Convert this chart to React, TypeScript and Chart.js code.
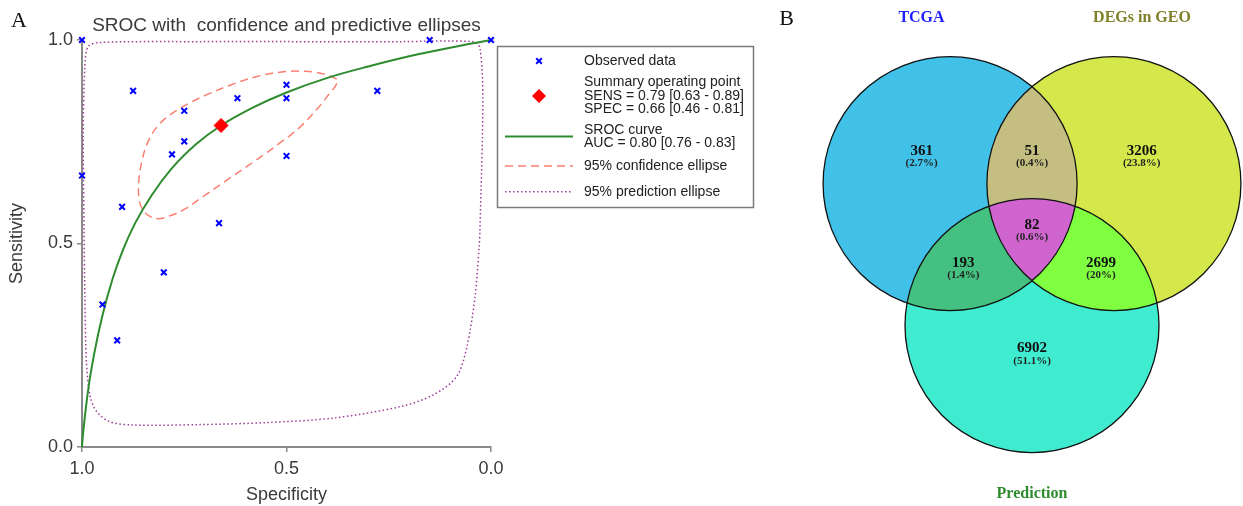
import React, { useEffect, useRef } from 'react';
import { Chart, registerables } from 'chart.js';

Chart.register(...registerables);

const SANS = "'Liberation Sans', Arial, sans-serif";
const SERIF = "'Liberation Serif', 'Times New Roman', serif";

// ---------------- Panel A data (specificity, sensitivity) ----------------
const observedSpec = [1.0, 0.15, 0.0, 0.875, 0.5, 0.5, 0.62, 0.278, 0.75, 0.75, 0.78, 0.5, 1.0, 0.902, 0.665, 0.8, 0.95, 0.914];
const observedSens = [1.0, 1.0, 1.0, 0.875, 0.89, 0.857, 0.857, 0.875, 0.826, 0.751, 0.719, 0.715, 0.667, 0.59, 0.55, 0.429, 0.35, 0.262];

const summarySpec = [0.66];
const summarySens = [0.79];

const srocSpec = [1.0, 0.999, 0.995, 0.985, 0.97, 0.95, 0.925, 0.9, 0.87, 0.83, 0.78, 0.72, 0.66, 0.58, 0.5, 0.4, 0.3, 0.2, 0.1, 0.0];
const srocSens = [0.0, 0.015, 0.056, 0.14, 0.23, 0.323, 0.414, 0.484, 0.55, 0.618, 0.685, 0.745, 0.79, 0.835, 0.871, 0.907, 0.935, 0.96, 0.981, 1.0];

const confSpec = [0.377, 0.406, 0.455, 0.516, 0.577, 0.638, 0.692, 0.741, 0.785, 0.817, 0.839, 0.853, 0.861, 0.861, 0.853, 0.836, 0.814, 0.785, 0.748, 0.699, 0.638, 0.577, 0.516, 0.467, 0.423, 0.394, 0.379, 0.377];
const confSens = [0.904, 0.916, 0.923, 0.921, 0.909, 0.889, 0.867, 0.843, 0.816, 0.786, 0.749, 0.705, 0.656, 0.614, 0.585, 0.568, 0.561, 0.568, 0.585, 0.619, 0.661, 0.703, 0.747, 0.786, 0.833, 0.87, 0.889, 0.904];

const predSpec = [0.467, 0.222, 0.044, 0.027, 0.02, 0.027, 0.029, 0.039, 0.059, 0.084, 0.141, 0.222, 0.386, 0.548, 0.711, 0.875, 0.932, 0.964, 0.98, 0.989, 0.993, 0.995, 0.997, 0.993, 0.985, 0.956, 0.711, 0.467];
const predSens = [0.996, 0.996, 0.996, 0.98, 0.853, 0.533, 0.492, 0.369, 0.246, 0.173, 0.128, 0.099, 0.071, 0.06, 0.055, 0.054, 0.062, 0.087, 0.124, 0.206, 0.369, 0.533, 0.771, 0.934, 0.984, 0.994, 0.996, 0.996];

const axisTicks = [0, 0.5, 1];

const legendTexts = [
  ['Observed data'],
  ['Summary operating point', 'SENS = 0.79 [0.63 - 0.89]', 'SPEC = 0.66 [0.46 - 0.81]'],
  ['SROC curve', 'AUC = 0.80 [0.76 - 0.83]'],
  ['95% confidence ellipse'],
  ['95% prediction ellipse'],
];

const chartTitle = 'SROC with  confidence and predictive ellipses';

// ---------------- Panel B data ----------------
const vennSetNames = ['TCGA', 'DEGs in GEO', 'Prediction'];
const vennSetTitleColors = ['#1E1EFF', '#80802A', '#2E8B2E'];
const regionCounts = [361, 51, 3206, 193, 82, 2699, 6902];
const regionPercents = ['2.7%', '0.4%', '23.8%', '1.4%', '0.6%', '20%', '51.1%'];
const regionMembers = [[0], [0, 1], [1], [0, 2], [0, 1, 2], [1, 2], [2]];
const regionColors = ['#41C0E8', '#C4BE80', '#D4E84C', '#44C080', '#D065D0', '#80FF40', '#40ECD0'];

// Venn geometry (layout, in circle-radius units)
const VENN = {
  centers: [[-0.645, 0.373], [0.645, 0.373], [0, -0.745]],
  radius: 1,
  labelAnchors: [[-0.869, 0.632], [0, 0.632], [0.864, 0.632], [-0.541, -0.25], [0, 0.047], [0.543, -0.25], [0, -0.924]],
  titleAnchors: [[-0.87, 1.681], [0.866, 1.681], [0, -2.071]],
};

const pts = (xs: number[], ys: number[]) => xs.map((x, i) => ({ x, y: ys[i] }));

const COLORS = {
  observed: '#0000FF',
  summary: '#FF0000',
  sroc: '#2E8B2E',
  conf: '#FA8072',
  pred: '#9B3C9B',
};

const legendPlugin = {
  id: 'srocLegend',
  afterDraw(chart: any) {
    const ctx = chart.ctx as CanvasRenderingContext2D;
    ctx.save();
    ctx.font = `22px ${SERIF}`;
    ctx.fillStyle = '#111';
    ctx.textAlign = 'center';
    ctx.textBaseline = 'middle';
    ctx.fillText('A', 19, 21);

    const bx = 497.5, by = 46.5, bw = 256, bh = 161;
    ctx.strokeStyle = '#7a7a7a';
    ctx.lineWidth = 1.5;
    ctx.strokeRect(bx, by, bw, bh);

    const symX = 539, l0 = 505, l1 = 573, tx = 584, lh = 13.4;
    const centers = [61, 96, 136.5, 166, 191.7];
    ctx.font = `14px ${SANS}`;
    ctx.fillStyle = '#222';
    ctx.textAlign = 'left';
    ctx.textBaseline = 'middle';
    legendTexts.forEach((lines, i) => {
      const c = centers[i];
      const start = c - ((lines.length - 1) * lh) / 2;
      lines.forEach((t, j) => ctx.fillText(t, tx, start + j * lh));
    });

    ctx.strokeStyle = COLORS.observed;
    ctx.lineWidth = 2;
    const r = 2.8;
    ctx.beginPath();
    ctx.moveTo(symX - r, centers[0] - r); ctx.lineTo(symX + r, centers[0] + r);
    ctx.moveTo(symX - r, centers[0] + r); ctx.lineTo(symX + r, centers[0] - r);
    ctx.stroke();
    ctx.fillStyle = COLORS.summary;
    const d = 7;
    ctx.beginPath();
    ctx.moveTo(symX, centers[1] - d); ctx.lineTo(symX + d, centers[1]);
    ctx.lineTo(symX, centers[1] + d); ctx.lineTo(symX - d, centers[1]);
    ctx.closePath(); ctx.fill();
    ctx.strokeStyle = COLORS.sroc; ctx.lineWidth = 2; ctx.setLineDash([]);
    ctx.beginPath(); ctx.moveTo(l0, centers[2]); ctx.lineTo(l1, centers[2]); ctx.stroke();
    ctx.strokeStyle = COLORS.conf; ctx.lineWidth = 1.5; ctx.setLineDash([8, 5]);
    ctx.beginPath(); ctx.moveTo(l0, centers[3]); ctx.lineTo(l1, centers[3]); ctx.stroke();
    ctx.strokeStyle = COLORS.pred; ctx.lineWidth = 1.5; ctx.setLineDash([1.5, 2.5]);
    ctx.beginPath(); ctx.moveTo(l0, centers[4]); ctx.lineTo(l1, centers[4]); ctx.stroke();
    ctx.setLineDash([]);
    ctx.restore();
  },
};

const vennPlugin = {
  id: 'vennDraw',
  afterDraw(chart: any) {
    const ctx = chart.ctx as CanvasRenderingContext2D;
    const xs = chart.scales.x, ys = chart.scales.y;
    const px = (v: number) => xs.getPixelForValue(v);
    const py = (v: number) => ys.getPixelForValue(v);
    const rpx = Math.abs(px(VENN.radius) - px(0));
    const circle = (i: number) => {
      ctx.beginPath();
      ctx.arc(px(VENN.centers[i][0]), py(VENN.centers[i][1]), rpx, 0, Math.PI * 2);
    };
    ctx.save();
    const order = regionMembers.map((m, i) => i).sort((a, b) => regionMembers[a].length - regionMembers[b].length);
    order.forEach((ri) => {
      ctx.save();
      const mem = regionMembers[ri];
      for (let k = 1; k < mem.length; k++) { circle(mem[k]); ctx.clip(); }
      circle(mem[0]);
      ctx.fillStyle = regionColors[ri];
      ctx.fill();
      ctx.restore();
    });
    ctx.strokeStyle = '#111';
    ctx.lineWidth = 1.3;
    for (let i = 0; i < 3; i++) { circle(i); ctx.stroke(); }

    ctx.textAlign = 'center';
    ctx.textBaseline = 'middle';
    regionCounts.forEach((c, i) => {
      const x = px(VENN.labelAnchors[i][0]);
      const y = py(VENN.labelAnchors[i][1]);
      ctx.fillStyle = '#111';
      ctx.font = `bold 15px ${SERIF}`;
      ctx.fillText(String(c), x, y);
      ctx.fillStyle = '#222';
      ctx.font = `bold 11px ${SERIF}`;
      ctx.fillText(`(${regionPercents[i]})`, x, y + 12.5);
    });
    ctx.font = `bold 16px ${SERIF}`;
    vennSetNames.forEach((n, i) => {
      ctx.fillStyle = vennSetTitleColors[i];
      ctx.fillText(n, px(VENN.titleAnchors[i][0]), py(VENN.titleAnchors[i][1]));
    });
    ctx.font = `22px ${SERIF}`;
    ctx.fillStyle = '#111';
    ctx.fillText('B', 16.5, 19);
    ctx.restore();
  },
};

const tickFont = { family: SANS, size: 18 };
const axisColor = '#8a8a8a';
const textColor = '#3a3a3a';

function makeChartA(canvas: HTMLCanvasElement) {
  return new Chart(canvas, {
    type: 'scatter',
    data: {
      datasets: [
        {
          label: 'Observed data', data: pts(observedSpec, observedSens), showLine: false,
          pointStyle: 'crossRot', pointRadius: 4, pointBorderWidth: 2,
          pointBorderColor: COLORS.observed, pointBackgroundColor: COLORS.observed,
          borderColor: COLORS.observed, backgroundColor: COLORS.observed, clip: false,
        },
        {
          label: 'Summary operating point', data: pts(summarySpec, summarySens), showLine: false,
          pointStyle: 'rectRot', pointRadius: 7, pointBorderWidth: 1,
          pointBorderColor: COLORS.summary, pointBackgroundColor: COLORS.summary,
          borderColor: COLORS.summary, backgroundColor: COLORS.summary, clip: false,
        },
        {
          label: 'SROC curve', data: pts(srocSpec, srocSens), showLine: true, pointRadius: 0,
          borderColor: COLORS.sroc, borderWidth: 2, cubicInterpolationMode: 'monotone', clip: false,
        },
        {
          label: '95% confidence ellipse', data: pts(confSpec, confSens), showLine: true, pointRadius: 0,
          borderColor: COLORS.conf, borderWidth: 1.5, borderDash: [8, 5], tension: 0.4, clip: false,
        },
        {
          label: '95% prediction ellipse', data: pts(predSpec, predSens), showLine: true, pointRadius: 0,
          borderColor: COLORS.pred, borderWidth: 1.5, borderDash: [1.5, 2.5], tension: 0.3, clip: false,
        },
      ] as any,
    },
    options: {
      responsive: false,
      animation: false,
      events: [],
      layout: { padding: { left: 0, top: 0, right: 279, bottom: 0 } },
      plugins: {
        legend: { display: false },
        tooltip: { enabled: false },
        title: {
          display: true, text: chartTitle, fullSize: false, color: textColor,
          font: { family: SANS, size: 19, weight: 'normal' }, padding: { top: 14, bottom: 3.2 },
        },
      },
      scales: {
        x: {
          type: 'linear', min: 0, max: 1, reverse: true,
          afterBuildTicks: (s: any) => { s.ticks = axisTicks.map((v) => ({ value: v })); },
          afterFit: (s: any) => { s.height = 59; s.paddingLeft = 0; s.paddingRight = 0; },
          ticks: { callback: (v: any) => Number(v).toFixed(1), font: tickFont, color: textColor, padding: 6, maxRotation: 0, autoSkip: false },
          grid: { drawOnChartArea: false, drawTicks: true, tickLength: 5, color: axisColor, lineWidth: 1.5 },
          border: { display: true, color: axisColor, width: 2 },
          title: { display: true, text: 'Specificity', color: textColor, font: { family: SANS, size: 18 }, padding: { top: 0, bottom: 0 } },
        },
        y: {
          type: 'linear', min: 0, max: 1,
          afterBuildTicks: (s: any) => { s.ticks = axisTicks.map((v) => ({ value: v })); },
          afterFit: (s: any) => { s.width = 82; s.paddingTop = 0; s.paddingBottom = 0; },
          ticks: { callback: (v: any) => Number(v).toFixed(1), font: tickFont, color: textColor, padding: 4, autoSkip: false },
          grid: { drawOnChartArea: false, drawTicks: true, tickLength: 5, color: axisColor, lineWidth: 1.5 },
          border: { display: true, color: axisColor, width: 2 },
          title: { display: true, text: 'Sensitivity', color: textColor, font: { family: SANS, size: 18 }, padding: { top: 6, bottom: 0 } },
        },
      },
    } as any,
    plugins: [legendPlugin],
  });
}

function makeChartB(canvas: HTMLCanvasElement) {
  const unit = 127;
  return new Chart(canvas, {
    type: 'scatter',
    data: {
      datasets: [
        { label: 'regions', data: VENN.labelAnchors.map(([x, y]) => ({ x, y })), pointRadius: 0, showLine: false },
      ],
    },
    options: {
      responsive: false,
      animation: false,
      events: [],
      layout: { padding: 0 },
      plugins: { legend: { display: false }, tooltip: { enabled: false }, title: { display: false } },
      scales: {
        x: { type: 'linear', display: false, min: -262 / unit, max: 211 / unit },
        y: { type: 'linear', display: false, min: -275 / unit, max: 231 / unit },
      },
    } as any,
    plugins: [vennPlugin],
  });
}

export default function App() {
  const refA = useRef<HTMLCanvasElement>(null);
  const refB = useRef<HTMLCanvasElement>(null);
  useEffect(() => {
    const a = makeChartA(refA.current!);
    const b = makeChartB(refB.current!);
    return () => { a.destroy(); b.destroy(); };
  }, []);
  return (
    <div style={{ position: 'fixed', left: 0, top: 0, width: 1243, height: 506, background: '#fff', overflow: 'hidden' }}>
      <canvas ref={refA} width={770} height={506} style={{ position: 'absolute', left: 0, top: 0, width: 770, height: 506 }} />
      <canvas ref={refB} width={473} height={506} style={{ position: 'absolute', left: 770, top: 0, width: 473, height: 506 }} />
    </div>
  );
}
